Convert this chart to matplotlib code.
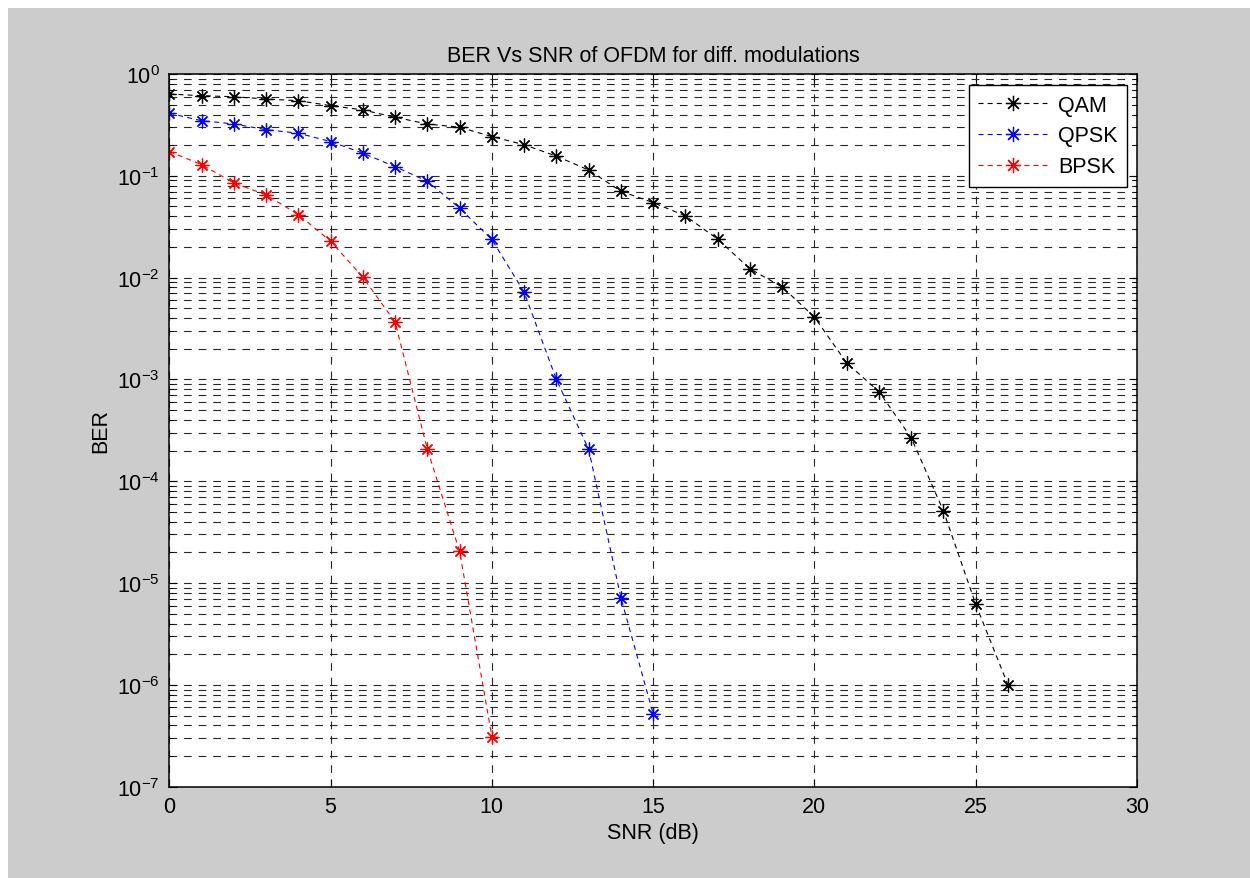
import numpy as np
import matplotlib
matplotlib.use("Agg")
import matplotlib.pyplot as plt
from matplotlib.patches import Rectangle

plt.rcParams['font.family'] = ['Liberation Sans', 'DejaVu Sans']
plt.rcParams['mathtext.default'] = 'regular'
plt.rcParams['lines.scale_dashes'] = False

# SNR en dB
snr_qam = np.arange(0, 27)
snr_qpsk = np.arange(0, 16)
snr_bpsk = np.arange(0, 11)

ber_qam = [0.636, 0.612, 0.598, 0.568, 0.547, 0.489, 0.444, 0.376, 0.323, 0.300,
           0.243, 0.202, 0.156, 0.114, 0.0706, 0.0546, 0.0404, 0.0239, 0.0122,
           0.0081, 0.0041, 0.00145, 7.6e-4, 2.68e-4, 5.1e-5, 6.2e-6, 1.0e-6]
ber_qpsk = [0.411, 0.348, 0.323, 0.284, 0.262, 0.217, 0.167, 0.123, 0.0885,
            0.0481, 0.0237, 0.0072, 1.0e-3, 2.06e-4, 7.2e-6, 5.2e-7]
ber_bpsk = [0.173, 0.129, 0.0852, 0.065, 0.0416, 0.0228, 0.0101, 0.00366,
            2.06e-4, 2.05e-5, 3.1e-7]

etiquetas = ["QAM", "QPSK", "BPSK"]
colores = ["black", "blue", "red"]

fs = 15.5

fig = plt.figure(figsize=(12.5, 8.79), dpi=100)
fig.patch.set_facecolor("white")
fig.patches.append(Rectangle((8 / 1250, 0), 1, 1 - 9 / 879, transform=fig.transFigure,
                             facecolor="#cccccc", edgecolor="none", zorder=-10))

ax = fig.add_axes([169.3 / 1250, 1 - 787.7 / 879, 967.7 / 1250, 712.7 / 879])
ax.set_facecolor("white")

asterisco = (8, 2, 0)
for x, y, lab, c in zip([snr_qam, snr_qpsk, snr_bpsk], [ber_qam, ber_qpsk, ber_bpsk],
                        etiquetas, colores):
    ax.semilogy(x, y, color=c, linestyle=(0, (3.6, 3.0)), linewidth=0.8,
                marker=asterisco, markersize=10, markeredgewidth=0.9, label=lab)

ax.set_xlim(0, 30)
ax.set_ylim(1e-7, 1)
ax.set_xticks(np.arange(0, 31, 5))
ax.set_yticks([10.0 ** k for k in range(-7, 1)])

ax.grid(True, which="major", axis="both", color="0.15", linestyle=(0, (5.5, 5.0)), linewidth=0.8)
ax.grid(True, which="minor", axis="y", color="0.15", linestyle=(0, (5.5, 5.0)), linewidth=0.8)
ax.set_axisbelow(True)

ax.tick_params(which="both", direction="in", top=True, right=True, labelsize=fs)
ax.tick_params(which="major", length=6, pad=7)
ax.tick_params(which="minor", length=3)
for s in ax.spines.values():
    s.set_linewidth(1.1)

ax.set_title("BER Vs SNR of OFDM for diff. modulations", fontsize=fs, pad=9)
ax.set_xlabel("SNR (dB)", fontsize=fs)
ax.set_ylabel("BER", fontsize=fs)
ax.xaxis.set_label_coords(0.5, -0.049)
ax.yaxis.set_label_coords(-0.060, 0.5)

leg = ax.legend(loc="upper right", bbox_to_anchor=(0.9897, 0.9846), fontsize=fs,
                handlelength=3.2, labelspacing=0.45, borderpad=0.45, fancybox=False,
                framealpha=1, edgecolor="black", borderaxespad=0, handletextpad=0.5,
                markerscale=1.1)
leg.get_frame().set_linewidth(1.0)

plt.savefig("out.png", dpi=100)
